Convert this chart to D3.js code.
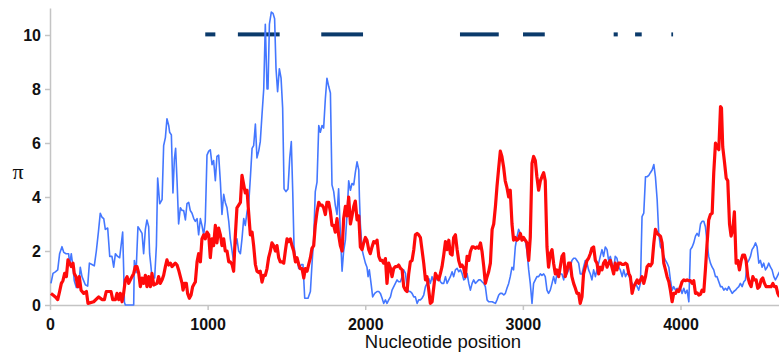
<!DOCTYPE html>
<html>
<head>
<meta charset="utf-8">
<script src="https://cdn.jsdelivr.net/npm/d3@7"></script>
<style>
    html, body { margin: 0; padding: 0; background: #ffffff; }
    #chart { width: 779px; height: 354px; }
    .axis path, .axis line { stroke: #c4c4c4; stroke-width: 1.5; }
    .axis text { font-family: "Liberation Sans", Arial, sans-serif; font-weight: bold; font-size: 16px; fill: #111111; }
</style>
</head>
<body>
<div id="chart"></div>
<script>
// Tick labels
const xTicks = [0, 1000, 2000, 3000, 4000];
const yTicks = [0, 2, 4, 6, 8, 10];

// Regions marked at the top of the plot (start, end nucleotide)
const regionStarts = [985, 1192, 1721, 2601, 3001, 3576, 3712, 3942];
const regionEnds   = [1049, 1457, 1986, 2847, 3139, 3602, 3754, 3953];
const regionLevel = 10;

// Nucleotide diversity, blue series: [position, pi]
const blueSeries = [
    [6,0.8],[19,1.17],[34,1.23],[49,1.3],[61,1.9],[76,2.16],[87,1.95],[102,1.9],[118,1.9],[125,1.5],
    [135,1.9],[146,1.4],[154,0.9],[167,0.65],[182,0.65],[192,1.4],[203,1.05],[224,0.75],[239,0.7],[250,1.55],
    [266,1.5],[281,1.45],[294,2.0],[307,2.7],[319,3.4],[330,3.25],[341,3.2],[351,2.8],[366,2.85],[379,1.8],
    [393,1.8],[404,1.4],[415,1.9],[429,1.8],[442,1.75],[450,2.15],[461,2.7],[467,1.4],[472,0.1],[478,0],
    [531,0],[535,1.65],[546,1.2],[558,2.9],[569,2.8],[584,2.65],[594,1.9],[605,2.8],[615,3.15],[626,2.9],
    [632,1.9],[641,1.4],[647,1.0],[664,1.0],[675,2.2],[683,4.7],[696,3.75],[711,3.9],[721,5.9],[732,6.2],
    [742,6.9],[753,6.65],[759,6.4],[770,6.3],[780,4.15],[789,5.4],[797,5.8],[806,4.6],[816,3.0],[827,3.6],
    [838,3.5],[848,3.5],[859,3.15],[869,3.75],[880,3.8],[890,3.5],[901,3.4],[912,3.2],
    [922,3.1],[933,3.2],[943,2.6],[954,3.2],[964,2.95],[975,2.6],[985,3.1],[996,5.55],[1007,5.7],[1017,5.75],
    [1028,5.2],[1038,5.35],[1049,4.6],[1059,5.5],[1070,5.55],[1081,4.55],[1091,3.35],[1102,4.1],[1112,3.8],[1123,3.6],
    [1134,3.1],[1144,2.45],[1155,2.0],[1165,1.6],[1176,2.2],[1186,2.45],[1197,2.0],[1208,1.9],[1218,2.45],[1229,3.2],
    [1239,2.95],[1250,3.45],[1260,3.7],[1271,4.7],[1282,5.8],[1292,5.9],[1303,6.7],[1313,5.45],[1324,5.7],[1334,6.05],
    [1345,7.05],[1356,8.0],[1366,10.4],[1377,8.0],[1383,8.0],[1392,10.4],[1404,10.85],[1415,10.8],[1425,10.6],[1434,8.75],
    [1444,7.9],[1455,8.75],[1466,8.4],[1476,7.3],[1485,4.3],[1497,4.2],[1510,4.3],[1521,5.45],[1531,6.05],[1540,4.2],
    [1548,2.2],[1557,1.75],[1567,1.75],[1578,1.35],[1595,1.5],[1605,1.5],[1616,0.25],[1626,0.25],[1637,0.25],[1652,0.5],
    [1662,1.5],[1673,2.45],[1683,4.2],[1694,4.55],[1705,6.65],[1715,6.4],[1726,6.65],[1736,6.55],[1747,7.65],[1757,8.4],
    [1768,8.1],[1779,7.85],[1789,4.45],[1800,4.2],[1810,3.7],[1821,3.35],[1831,4.3],[1842,2.7],[1853,1.25],[1863,2.0],
    [1874,2.4],[1885,3.4],[1895,4.6],[1906,4.25],[1916,4.5],[1927,4.45],[1937,4.9],[1948,5.3],[1959,5.0],[1963,4.0],
    [1969,3.0],[1980,2.05],[1990,1.8],[2001,1.55],[2011,1.4],[2018,1.05],[2026,1.3],[2039,0.7],[2047,0.3],[2060,0.43],
    [2075,0.5],[2086,0.5],[2096,0.43],[2107,0.25],[2117,0.06],[2128,0.19],[2138,0.06],[2149,0.19],[2160,0.3],[2170,0.55],
    [2181,0.68],[2191,0.8],[2202,0.93],[2212,0.86],[2223,0.86],[2234,1.05],[2244,1.3],[2255,1.17],[2265,0.68],[2276,0.5],
    [2286,0.5],[2297,0.43],[2308,0.3],[2318,0.3],[2329,0.06],[2339,0.19],[2350,0.19],[2360,0.25],[2371,0.37],[2382,0.68],
    [2392,0.8],[2403,0.98],[2413,0.8],[2424,1.05],[2434,0.86],[2445,1.1],[2456,0.93],[2466,1.05],[2477,0.86],[2487,0.8],
    [2498,0.8],[2509,1.05],[2519,0.8],[2530,0.93],[2540,1.05],[2551,1.23],[2561,1.05],[2572,1.3],[2583,1.36],[2593,1.23],
    [2604,1.3],[2614,1.17],[2625,0.93],[2635,0.98],[2646,1.17],[2657,0.8],[2667,0.55],[2678,0.8],[2688,0.93],[2699,0.8],
    [2709,0.86],[2720,0.93],[2731,0.93],[2741,0.86],[2752,0.8],[2762,0.68],[2773,0.19],[2783,0.12],[2794,0.12],[2805,0.12],
    [2815,0.09],[2826,0.06],[2836,0.19],[2847,0.37],[2857,0.43],[2868,0.43],[2879,0.37],[2889,0.43],
    [2899,0.62],[2910,0.8],[2920,1.05],[2931,1.4],[2941,1.3],[2952,2.15],[2962,2.5],[2973,2.8],[2984,2.65],[2994,2.5],
    [3005,2.5],[3015,2.4],[3026,2.0],[3037,1.3],[3047,0.8],[3058,0.06],[3068,0.8],[3079,0.93],[3089,1.05],[3100,1.05],
    [3111,1.15],[3121,1.1],[3132,1.15],[3142,1.05],[3153,0.55],[3163,0.43],[3174,0.55],[3185,0.8],[3195,1.05],[3206,0.8],
    [3216,1.15],[3227,1.3],[3237,1.15],[3248,1.15],[3259,0.93],[3269,1.25],[3280,1.15],[3290,1.3],[3301,1.4],[3311,1.65],
    [3322,1.73],[3333,1.73],[3343,1.65],[3354,1.55],[3364,1.15],[3375,1.15],[3385,1.4],[3396,1.65],[3407,1.55],[3417,1.3],
    [3428,1.15],[3438,0.93],[3449,1.3],[3460,1.05],[3470,1.3],[3481,1.55],[3491,1.8],[3502,2.05],[3512,1.8],[3523,2.15],
    [3534,2.05],[3544,1.65],[3555,1.8],[3565,1.55],[3576,1.3],[3586,1.8],[3597,1.73],[3608,1.4],[3618,1.3],
    [3630,1.05],[3640,1.3],[3651,1.05],[3661,1.17],[3672,1.1],[3682,0.93],[3693,0.8],[3704,0.68],[3714,0.8],[3725,0.68],
    [3735,0.55],[3746,0.8],[3756,3.27],[3767,3.4],[3778,4.75],[3788,4.75],[3799,4.8],[3809,4.9],[3820,5.0],[3831,5.2],
    [3841,4.75],[3852,3.9],[3862,2.65],[3873,2.15],[3883,2.05],[3894,1.8],[3905,1.65],[3915,1.55],[3926,1.4],[3936,0.93],
    [3947,0.55],[3957,0.68],[3968,0.55],[3979,0.62],[3989,0.55],[4000,0.62],[4010,0.43],[4021,0.62],[4031,0.43],[4042,0.55],
    [4053,0.12],[4063,2.05],[4074,2.15],[4084,2.3],[4095,2.55],[4105,2.65],[4116,2.55],[4127,3.0],[4137,3.1],[4148,3.1],
    [4158,2.9],[4169,2.3],[4179,1.8],[4190,1.55],[4201,1.4],[4211,1.3],[4222,1.05],[4232,1.05],[4243,0.86],[4254,0.68],
    [4264,0.68],[4275,0.55],[4285,0.62],[4296,0.55],[4306,0.68],[4317,0.55],[4328,0.43],[4338,0.5],[4349,0.55],[4359,0.62],
    [4370,0.68],[4380,0.8],[4391,0.68],[4402,0.86],[4412,0.93],[4423,1.55],[4433,1.65],[4444,1.8],[4454,2.05],[4465,2.15],
    [4476,2.3],[4486,2.15],[4497,1.55],[4507,1.65],[4518,1.4],[4528,1.55],[4539,1.3],[4550,1.4],[4560,1.55],[4571,1.4],
    [4581,1.3],[4592,1.05],[4602,0.93],[4613,1.05],[4628,1.23]
];

// Nucleotide diversity, red series: [position, pi]
const redSeries = [
    [6,0.43],[19,0.37],[34,0.3],[49,0.2],[61,0.5],[72,0.8],[82,0.9],[93,1.17],[104,1.05],[114,1.67],
    [125,1.55],[135,1.42],[146,1.55],[154,1.17],[165,1.05],[176,0.68],[186,1.05],[197,0.55],[214,0.43],[231,0.5],
    [241,0.06],[277,0.12],[309,0.3],[330,0.2],[345,0.2],[357,0.5],[387,0.5],[398,0.2],[415,0.2],[425,0.43],
    [436,0.2],[446,0.43],[457,0.12],[467,0.43],[478,0.93],[489,1.05],[499,0.8],[520,1.05],[531,1.17],[541,1.42],
    [552,1.42],[563,1.17],[573,0.68],[584,1.0],[594,0.8],[605,1.1],[615,0.68],[626,1.05],[637,0.68],[647,1.17],
    [658,0.74],[679,0.8],[689,1.05],[700,0.8],[711,0.93],[721,1.1],[732,1.42],[742,1.67],[753,1.48],[764,1.55],
    [774,1.42],[795,1.55],[806,1.48],[816,1.3],[827,1.05],[838,0.8],[844,0.55],[854,0.8],[865,0.8],[873,0.43],
    [884,0.25],[895,0.37],[905,0.68],[916,0.8],
    [922,0.85],[933,1.6],[943,1.9],[954,1.6],[964,2.45],[975,2.6],[985,2.45],[996,2.7],[1007,2.6],[1017,1.75],
    [1028,2.45],[1038,2.2],[1049,2.95],[1059,2.3],[1070,2.85],[1081,2.6],[1091,2.2],[1102,2.45],[1112,2.0],[1123,2.0],
    [1134,1.6],[1144,1.6],[1155,1.5],[1165,1.25],[1176,2.6],[1186,3.6],[1197,3.7],[1208,3.8],[1218,4.8],[1229,4.45],
    [1239,4.15],[1250,4.25],[1260,3.45],[1271,2.6],[1282,2.7],[1292,2.2],[1303,1.5],[1313,1.25],[1324,1.2],[1334,1.25],
    [1345,0.85],[1356,1.1],[1366,1.1],[1377,1.35],[1387,1.75],[1398,2.0],[1408,2.3],[1419,2.2],[1430,2.0],[1440,2.2],
    [1451,1.75],[1461,1.6],[1472,1.6],[1483,1.55],[1493,2.0],[1504,2.45],[1514,2.35],[1525,2.45],[1535,2.2],[1546,2.0],
    [1557,1.6],[1567,1.75],[1578,1.5],[1588,1.35],[1599,1.35],[1610,1.0],[1620,1.35],[1631,1.25],[1641,1.5],[1652,1.75],
    [1662,2.1],[1673,2.2],[1683,2.95],[1694,3.45],[1705,3.8],[1715,3.7],[1726,3.7],[1736,3.6],[1747,3.35],[1757,3.8],
    [1768,3.8],[1779,3.45],[1789,2.95],[1800,2.95],[1810,2.7],[1821,3.2],[1831,2.6],[1842,2.2],[1853,2.0],[1863,3.2],
    [1874,3.65],[1885,3.3],[1895,4.0],[1906,3.0],[1916,3.3],[1927,3.65],[1937,3.85],[1948,3.15],[1959,3.3],[1969,2.15],
    [1980,2.05],[1990,2.3],[2001,2.5],[2011,2.4],[2022,2.05],[2032,1.9],[2043,2.15],[2054,2.35],[2064,2.3],[2075,2.4],
    [2086,1.8],[2096,1.65],[2107,1.65],[2117,1.55],[2128,1.72],[2138,0.8],[2149,1.55],[2160,1.36],[2170,1.05],[2181,1.36],
    [2191,1.42],[2202,1.42],[2212,1.48],[2223,1.36],[2234,1.3],[2244,0.68],[2255,0.55],[2265,0.5],[2276,1.17],[2286,1.6],
    [2297,1.65],[2308,2.05],[2318,2.6],[2329,2.65],[2339,2.6],[2350,2.5],[2360,2.05],[2371,1.55],[2382,0.93],[2392,1.05],
    [2403,0.55],[2413,0.06],[2424,0.12],[2434,0.62],[2445,1.17],[2456,1.05],[2466,0.93],[2477,1.17],[2487,1.42],[2498,1.85],
    [2509,2.35],[2519,2.05],[2530,2.4],[2540,1.9],[2551,1.85],[2561,2.5],[2572,2.6],[2583,2.05],[2593,1.65],[2604,1.42],
    [2614,1.48],[2625,1.36],[2635,1.05],[2646,1.8],[2657,1.65],[2667,1.98],[2678,2.15],[2688,2.15],[2699,2.1],[2709,2.15],
    [2720,2.1],[2731,2.3],[2741,1.98],[2752,1.42],[2762,0.8],[2773,1.05],[2783,1.23],[2794,1.55],[2805,2.8],[2815,3.0],
    [2826,3.65],[2836,4.4],[2847,5.1],[2857,5.7],
    [2867,5.5],[2878,5.1],[2888,4.6],[2899,4.35],[2910,4.0],[2920,4.25],[2931,3.0],[2941,2.4],[2952,2.5],[2962,2.4],
    [2973,2.45],[2984,2.65],[2994,2.4],[3005,2.5],[3015,2.4],[3026,2.3],[3037,1.65],[3047,2.5],[3058,5.25],[3068,5.5],
    [3079,5.35],[3089,4.75],[3100,4.25],[3111,4.6],[3121,4.75],[3132,4.9],[3142,4.6],[3153,2.15],[3163,1.4],[3174,1.9],
    [3185,2.05],[3195,1.55],[3206,1.15],[3216,1.3],[3227,1.05],[3237,1.4],[3248,1.8],[3259,1.9],[3269,1.05],[3280,1.3],
    [3290,1.55],[3301,1.55],[3311,1.05],[3322,0.8],[3333,0.62],[3343,0.43],[3354,0.43],[3364,0.06],[3375,0.3],[3385,1.15],
    [3396,1.4],[3407,1.65],[3417,1.73],[3428,1.9],[3438,2.1],[3449,2.15],[3460,1.65],[3470,1.55],[3481,1.15],[3491,1.4],
    [3502,1.3],[3512,1.55],[3523,1.65],[3534,1.4],[3544,1.55],[3555,1.65],[3565,1.4],[3576,1.15],[3586,1.55],[3597,1.3],
    [3608,1.55],[3618,1.55],
    [3630,1.5],[3640,1.5],[3651,1.55],[3661,1.5],[3672,1.17],[3682,1.05],[3693,0.43],[3704,0.68],[3714,0.8],[3725,0.93],
    [3735,0.8],[3746,0.93],[3756,1.05],[3767,0.8],[3778,1.05],[3788,1.42],[3799,1.5],[3809,1.45],[3820,1.55],[3831,2.3],
    [3841,2.8],[3852,2.65],[3862,2.6],[3873,2.55],[3883,2.3],[3894,1.55],[3905,1.3],[3915,1.05],[3926,0.86],[3936,0.55],
    [3947,0.12],[3957,0.43],[3968,0.43],[3979,0.55],[3989,0.5],[4000,0.68],[4010,0.86],[4021,0.93],[4031,0.9],[4042,0.93],
    [4053,0.9],[4063,0.9],[4074,0.8],[4084,0.9],[4095,0.43],[4105,0.45],[4116,0.37],[4127,0.4],[4137,0.55],[4148,0.5],
    [4158,1.3],[4169,2.3],[4179,3.15],[4190,3.35],[4201,3.4],[4211,4.9],[4222,6.0],[4232,5.85],[4243,5.75],[4254,7.35],
    [4260,7.3],[4268,5.85],[4279,5.3],[4290,4.7],[4300,4.6],[4311,3.0],[4321,2.55],[4332,2.8],[4342,3.45],[4353,1.55],
    [4363,1.65],[4374,1.3],[4385,1.65],[4395,1.85],[4406,1.85],[4416,1.65],[4427,1.05],[4438,0.8],[4448,0.68],[4459,1.05],
    [4469,0.93],[4480,0.93],[4490,0.62],[4501,0.68],[4512,0.93],[4522,1.0],[4533,0.8],[4543,0.68],[4554,0.68],[4564,0.68],
    [4575,0.68],[4586,0.8],[4596,0.68],[4607,0.68],[4617,0.43],[4628,0.3]
];

const width = 779;
const height = 354;
const margin = { top: 8, right: 0, bottom: 49, left: 50 };

const svg = d3.select('#chart')
    .append('svg')
    .attr('width', width)
    .attr('height', height)
    .style('background-color', '#ffffff');

// Scales
const x = d3.scaleLinear()
    .domain([0, 4625])
    .range([margin.left, width - margin.right]);

const y = d3.scaleLinear()
    .domain([0, 11])
    .range([height - margin.bottom, margin.top]);

// Axes
svg.append('g')
    .attr('class', 'axis')
    .attr('transform', `translate(0, ${y(0)})`)
    .call(d3.axisBottom(x).tickValues(xTicks).tickSize(5).tickSizeOuter(0).tickPadding(9).tickFormat(d3.format('d')));

svg.append('g')
    .attr('class', 'axis')
    .attr('transform', `translate(${x(0)}, 0)`)
    .call(d3.axisLeft(y).tickValues(yTicks).tickSize(5).tickSizeOuter(0).tickPadding(4).tickFormat(d3.format('d')));

// Marked regions
const regions = regionStarts.map((s, i) => ({ start: s, end: regionEnds[i] }));
svg.append('g')
    .selectAll('rect')
    .data(regions)
    .enter()
    .append('rect')
    .attr('x', d => x(d.start))
    .attr('width', d => x(d.end) - x(d.start))
    .attr('y', y(regionLevel) - 2.6)
    .attr('height', 4)
    .attr('fill', '#0b3a6b');

// Lines
const line = d3.line()
    .x(d => x(d[0]))
    .y(d => y(d[1]));

svg.append('path')
    .datum(blueSeries)
    .attr('d', line)
    .attr('fill', 'none')
    .attr('stroke', '#4477ff')
    .attr('stroke-width', 1.6)
    .attr('stroke-linejoin', 'round');

svg.append('path')
    .datum(redSeries)
    .attr('d', line)
    .attr('fill', 'none')
    .attr('stroke', '#ff0a0a')
    .attr('stroke-width', 3.2)
    .attr('stroke-linejoin', 'round');

// Axis titles
svg.append('text')
    .attr('x', 443)
    .attr('y', 348)
    .attr('text-anchor', 'middle')
    .style('font-family', '"Liberation Sans", Arial, sans-serif')
    .style('font-size', '18.5px')
    .style('fill', '#111111')
    .text('Nucleotide position');

svg.append('text')
    .attr('x', 18)
    .attr('y', 179)
    .attr('text-anchor', 'middle')
    .style('font-family', '"Liberation Serif", "Noto Sans", serif')
    .style('font-size', '22px')
    .style('fill', '#111111')
    .text('π');
</script>
</body>
</html>
